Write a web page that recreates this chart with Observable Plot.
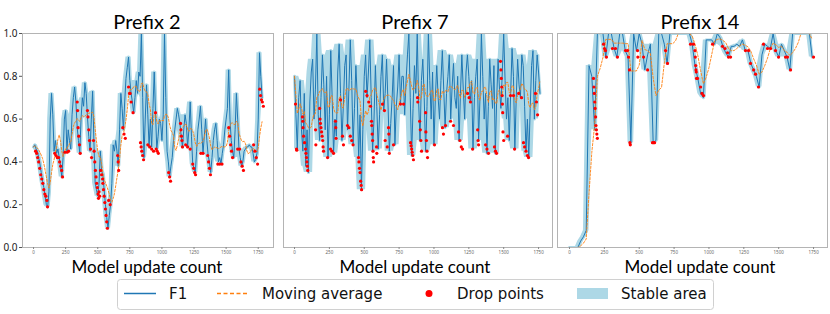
<!DOCTYPE html>
<html><head><meta charset="utf-8">
<script src="https://cdn.jsdelivr.net/npm/d3@7"></script>
<script src="https://cdn.jsdelivr.net/npm/@observablehq/plot@0.6"></script>
<style>
html,body{margin:0;padding:0;background:#fff;}
#root{position:relative;width:830px;height:314px;overflow:hidden;background:#fff;}
</style></head><body><div id="root"></div>
<script>
// ---- data ----
const titles = ["Prefix 2", "Prefix 7", "Prefix 14"];
const xLabel = "Model update count";
const xTicks = [0, 250, 500, 750, 1000, 1250, 1500, 1750];
const yTicks = [0, 0.2, 0.4, 0.6, 0.8, 1.0];
const legendLabels = ["F1", "Moving average", "Drop points", "Stable area"];
const steps = [10, 10, 20]; // model updates between sampled F1 values, per panel

const p1F1 = [0.47,0.48,0.46,0.45,0.42,0.39,0.35,0.31,0.28,0.24,0.2,0.19,0.26,0.6,0.72,0.62,0.45,0.5,0.44,0.46,
 0.42,0.38,0.33,0.42,0.6,0.64,0.45,0.55,0.5,0.46,0.62,0.7,0.75,0.68,0.56,0.5,0.44,0.6,0.7,0.66,
 0.77,0.72,0.61,0.52,0.45,0.6,0.73,0.5,0.3,0.27,0.24,0.3,0.45,0.36,0.34,0.27,0.2,0.14,0.09,0.15,
 0.2,0.3,0.48,0.45,0.5,0.45,0.38,0.55,0.72,0.65,0.55,0.68,0.79,0.84,0.89,0.78,0.72,0.68,0.63,0.7,
 0.78,0.72,0.82,0.8,1.0,0.7,0.42,0.6,0.76,0.62,0.47,0.6,0.47,0.65,0.82,0.63,0.46,0.52,0.6,0.58,
 0.5,0.62,1.0,0.7,0.45,0.4,0.33,0.38,0.42,0.5,0.55,0.6,0.65,0.62,0.58,0.52,0.47,0.55,0.62,0.58,
 0.47,0.55,0.68,0.52,0.39,0.37,0.35,0.45,0.55,0.6,0.66,0.55,0.44,0.52,0.6,0.5,0.43,0.4,0.35,0.42,
 0.5,0.55,0.58,0.5,0.4,0.42,0.39,0.44,0.48,0.55,0.6,0.65,0.83,0.6,0.5,0.45,0.42,0.55,0.72,0.6,
 0.46,0.42,0.38,0.4,0.45,0.46,0.47,0.47,0.48,0.47,0.47,0.44,0.4,0.41,0.44,0.6,0.91,0.8,0.7];
const p1DropU = [16,24,32,40,48,56,64,72,80,88,96,104,109,
 165,175,185,195,203,211,219,226,245,262,273,
 340,343,347,352,358,364,420,424,430,436,444,452,
 467,472,477,482,487,492,497,502,506,510,515,522,530,538,
 540,545,550,555,560,565,570,575,585,597,655,659,663,
 695,705,715,740,748,752,760,775,833,838,843,850,857,
 890,905,920,935,950,955,963,972,1052,1060,1067,
 1145,1148,1152,1156,1160,1185,1200,1220,1240,1247,1255,1262,
 1303,1320,1356,1363,1370,1378,1435,1450,1468,
 1520,1527,1535,1542,1550,1590,1605,1615,1625,1635,
 1714,1724,1735,1745,1762,1768,1775,1782,1790];
const p1DropV = [0.45,0.44,0.42,0.40,0.37,0.34,0.32,0.30,0.27,0.25,0.24,0.22,0.19,
 0.44,0.43,0.42,0.42,0.40,0.38,0.36,0.33,0.445,0.445,0.45,
 0.68,0.64,0.56,0.52,0.48,0.44,0.64,0.61,0.55,0.5,0.46,0.42,
 0.5,0.45,0.4,0.36,0.33,0.3,0.28,0.25,0.23,0.26,0.24,0.36,0.34,0.32,
 0.30,0.27,0.24,0.21,0.18,0.15,0.12,0.09,0.22,0.2,0.43,0.40,0.36,
 0.56,0.53,0.51,0.75,0.72,0.72,0.68,0.63,0.49,0.47,0.45,0.43,0.41,
 0.48,0.47,0.46,0.45,0.63,0.46,0.45,0.44,0.35,0.33,0.31,
 0.58,0.55,0.52,0.5,0.47,0.48,0.47,0.46,0.39,0.37,0.35,0.34,
 0.44,0.44,0.43,0.40,0.37,0.34,0.39,0.39,0.39,
 0.56,0.52,0.48,0.45,0.42,0.46,0.46,0.40,0.38,0.36,
 0.48,0.45,0.42,0.39,0.74,0.71,0.69,0.68,0.66];

const p2F1 = [0.80,0.62,0.46,0.70,0.78,0.55,0.45,0.72,0.38,0.55,0.35,0.68,0.82,0.88,0.6,0.74,1.0,0.62,0.5,0.7,
 0.9,0.76,0.55,0.8,0.42,0.62,0.92,0.7,0.44,0.6,0.52,0.82,0.95,0.72,0.5,0.66,0.85,0.9,0.55,0.74,
 0.97,0.78,0.48,0.65,0.85,0.7,0.42,0.62,0.27,0.55,0.8,0.9,0.7,0.82,0.97,0.7,0.45,0.6,0.85,0.66,
 0.46,0.62,0.8,0.9,0.64,0.72,0.88,0.68,0.45,0.58,0.7,0.85,0.48,0.66,0.75,0.9,0.67,0.8,0.8,0.62,
 0.78,0.9,1.0,0.7,0.43,0.65,0.85,0.72,1.0,0.68,0.5,0.78,0.88,0.7,0.45,0.66,1.0,0.78,0.6,0.82,
 0.48,0.7,0.85,0.7,0.6,0.78,0.92,0.74,0.56,0.72,0.8,0.9,0.6,0.75,0.86,0.7,0.65,0.8,0.5,0.72,
 0.9,0.74,0.6,0.82,0.9,0.8,0.68,0.78,0.46,0.7,0.8,0.88,0.5,0.7,1.0,0.8,0.6,0.72,0.44,0.66,
 0.88,0.76,0.65,0.85,0.44,0.7,0.88,0.74,0.65,0.82,1.0,0.78,0.6,0.7,0.5,0.72,0.93,0.8,0.46,0.7,
 0.88,0.76,0.7,0.9,0.85,0.66,0.45,0.6,0.42,0.65,0.85,0.92,0.6,0.78,0.9,0.82,0.72];
const p2DropU = [7,14,16,57,59,61,65,72,79,82,86,89,92,95,151,153,
 180,183,186,190,194,198,202,205,208,237,258,268,280,294,296,298,330,344,351,
 380,390,400,410,420,459,462,466,470,474,478,481,510,520,532,545,
 552,554,557,560,563,565,567,588,590,631,645,650,665,680,674,676,710,760,782,
 832,836,840,844,848,853,882,884,897,902,906,911,940,942,946,950,954,1004,
 1061,1068,1083,1119,1140,1176,1186,1196,1205,1241,1252,1262,1277,1313,1316,1320,
 1370,1380,1391,1434,1441,1449,1477,1480,1483,1486,1489,1491,1493,1495,1500,1528,
 1549,1570,1578,1607,1628,1642,1650,1660,1670,1678,1728,1735,1743];
const p2DropV = [0.67,0.46,0.455,0.61,0.59,0.56,0.52,0.49,0.46,0.44,0.42,0.40,0.38,0.36,0.55,0.48,
 0.65,0.6,0.58,0.56,0.54,0.52,0.5,0.47,0.45,0.42,0.46,0.45,0.44,0.59,0.56,0.51,0.69,0.52,0.48,
 0.57,0.56,0.52,0.5,0.48,0.42,0.4,0.37,0.35,0.31,0.29,0.27,0.73,0.71,0.68,0.66,
 0.59,0.57,0.53,0.5,0.45,0.42,0.40,0.47,0.44,0.67,0.64,0.5,0.47,0.44,0.56,0.53,0.48,0.67,0.67,
 0.49,0.475,0.46,0.445,0.43,0.41,0.7,0.68,0.59,0.55,0.5,0.45,0.63,0.54,0.5,0.45,0.42,0.48,
 0.56,0.53,0.57,0.59,0.57,0.54,0.5,0.47,0.46,0.72,0.7,0.68,0.46,0.55,0.5,0.48,
 0.48,0.46,0.44,0.47,0.45,0.44,0.87,0.83,0.79,0.75,0.71,0.67,0.63,0.54,0.5,0.52,
 0.71,0.71,0.46,0.72,0.7,0.49,0.47,0.45,0.43,0.42,0.72,0.68,0.62];

const p3F1 = [0,0,0,0,0.03,0.05,0.08,0.85,0.8,0.55,
 1.0,1.0,1.0,0.89,1.0,1.0,0.93,0.89,1.0,1.0,
 0.92,0.89,0.49,1.0,0.92,1.0,0.95,0.83,0.9,0.95,
 0.49,0.5,1.0,1.0,0.95,0.86,1.0,1.0,1.0,1.0,
 1.0,1.0,1.0,1.0,0.95,0.85,0.79,0.72,0.7,0.97,
 0.97,0.97,0.95,1.0,0.98,0.94,0.91,0.89,0.94,0.94,
 0.95,0.94,0.97,0.92,0.92,0.86,0.83,0.8,0.75,0.9,
 0.95,0.94,0.93,1.0,0.92,0.89,0.95,0.92,0.89,0.83,
 1.0,1.0,1.0,1.0,1.0,1.0,1.0,0.89];
const p3DropU = [172,175,178,181,184,187,190,193,196,200,244,251,258,265,308,330,344,
 402,416,423,430,433,436,488,490,531,560,595,603,610,689,703,868,889,
 900,902,905,907,909,911,918,940,950,961,1026,1097,1115,1133,1140,1155,
 1262,1284,1298,1320,1334,1355,1391,1420,1442,1477,1499,1549,1563,1585,1750];
const p3DropV = [0.79,0.75,0.72,0.68,0.65,0.61,0.57,0.55,0.53,0.51,0.95,0.93,0.92,0.89,0.93,0.93,0.89,
 0.92,0.92,0.89,0.83,0.49,0.48,0.92,0.89,0.89,0.83,0.49,0.49,0.49,0.92,0.86,0.95,0.95,
 0.92,0.89,0.85,0.83,0.82,0.79,0.79,0.75,0.72,0.71,0.95,0.94,0.93,0.91,0.89,0.89,
 0.92,0.92,0.86,0.83,0.81,0.75,0.95,0.93,0.93,0.92,0.89,0.89,0.89,0.83,0.89];

// ---- drawing ----
const root = document.getElementById("root");
const C = {f1: "#1f77b4", ma: "#ff7f0e", drop: "red", band: "#add8e6"};

function panel({f1, step, bandH, dropU, dropV, domain, left, frameL, frameR, yAxis}) {
  // stable area: rolling min / max of F1 over a centred window of 2*bandH+1 updates
  const data = f1.map((v, i) => {
    const w = f1.slice(Math.max(0, i - bandH), i + bandH + 1);
    return {u: i * step, f1: v, lo: d3.min(w), hi: d3.max(w)};
  });
  const drops = dropU.map((u, i) => ({u, v: dropV[i]}));
  const mR = 2;
  const maK = Math.round(80 / step);
  const marks = [
    Plot.areaY(data, {x: "u", y1: "lo", y2: "hi", fill: C.band}),
    Plot.lineY(data, {x: "u", y: "f1", stroke: C.band, strokeWidth: 3, strokeLinejoin: "round"}),
    Plot.lineY(data, {x: "u", y: "f1", stroke: C.f1, strokeWidth: 1}),
    Plot.lineY(data, Plot.windowY({k: maK, anchor: "end"},
      {x: "u", y: "f1", stroke: C.ma, strokeWidth: 0.9, strokeDasharray: "2.2,1.6"})),
    Plot.dot(drops, {x: "u", y: "v", r: 1.6, fill: C.drop}),
    Plot.frame({stroke: "#b4b4b4"}),
    Plot.axisX({ticks: xTicks, tickSize: 2, tickPadding: 1, fontSize: 4.5,
      tickFormat: d => String(d), stroke: "#888", fill: "#666", label: null})
  ];
  if (yAxis) marks.push(Plot.axisY({ticks: yTicks, tickFormat: d => d.toFixed(1),
      tickSize: 3, tickPadding: 2, fontSize: 10, fill: "#222", stroke: "#555", label: null}));
  const svg = Plot.plot({
    width: frameR - left + mR, height: 229,
    marginLeft: frameL - left, marginRight: mR, marginTop: 5, marginBottom: 10,
    x: {domain, label: null},
    y: {domain: [0, 1], label: null, axis: yAxis ? undefined : null},
    clip: true,
    style: {background: "transparent", overflow: "visible"},
    marks
  });
  svg.style.position = "absolute";
  svg.style.left = left + "px";
  svg.style.top = "28px";
  root.appendChild(svg);
}

panel({f1: p1F1, step: steps[0], bandH: 2, dropU: p1DropU, dropV: p1DropV, domain: [-86, 1869], left: 0, frameL: 22, frameR: 273, yAxis: true});
panel({f1: p2F1, step: steps[1], bandH: 3, dropU: p2DropU, dropV: p2DropV, domain: [-79, 1850], left: 281, frameL: 283, frameR: 552, yAxis: false});
panel({f1: p3F1, step: steps[2], bandH: 1, dropU: p3DropU, dropV: p3DropV, domain: [-86, 1850], left: 555, frameL: 557, frameR: 827, yAxis: false});

// ---- titles, axis labels and legend ----
const ns = "http://www.w3.org/2000/svg";
const ov = document.createElementNS(ns, "svg");
ov.setAttribute("width", 830); ov.setAttribute("height", 314);
ov.style.position = "absolute"; ov.style.left = "0"; ov.style.top = "0";
function el(tag, attrs, text) {
  const e = document.createElementNS(ns, tag);
  for (const k in attrs) e.setAttribute(k, attrs[k]);
  if (text != null) e.textContent = text;
  ov.appendChild(e);
  return e;
}
const centers = [147, 415, 700];
centers.forEach((cx, i) => {
  el("text", {x: cx, y: 29, "text-anchor": "middle", "font-family": "Lato, sans-serif", "font-size": 20, fill: "#000"}, titles[i]);
  el("text", {x: cx, y: 273, "text-anchor": "middle", "font-family": "Lato, sans-serif", "font-size": 17, fill: "#000"}, xLabel);
});
el("rect", {x: 117.5, y: 279.5, width: 596, height: 30, rx: 3, fill: "#fff", stroke: "#d0d0d0"});
const ly = 293.5, lt = 299;
el("line", {x1: 124, x2: 156, y1: ly, y2: ly, stroke: C.f1, "stroke-width": 1.5});
el("line", {x1: 217, x2: 247, y1: ly, y2: ly, stroke: C.ma, "stroke-width": 1.5, "stroke-dasharray": "4,2.5"});
el("circle", {cx: 429, cy: ly, r: 3.5, fill: C.drop});
el("rect", {x: 577, y: 288, width: 31, height: 11, fill: C.band});
const lx = [169, 262, 457, 621];
legendLabels.forEach((t, i) => el("text", {x: lx[i], y: lt, "font-family": "DejaVu Sans, sans-serif", "font-size": 15, fill: "#111"}, t));
root.appendChild(ov);
</script>
</body></html>
